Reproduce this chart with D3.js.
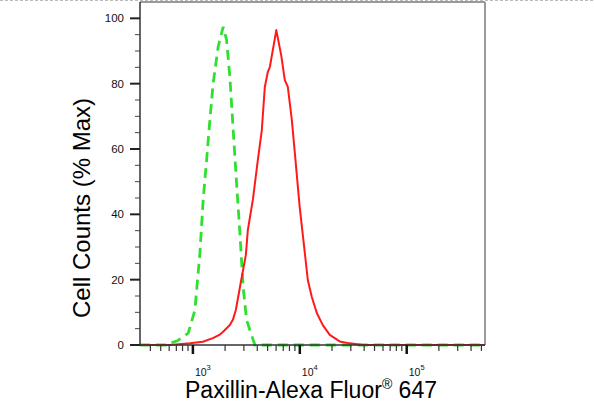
<!DOCTYPE html>
<html>
<head>
<meta charset="utf-8">
<script src="https://cdn.jsdelivr.net/npm/d3@7"></script>
<style>
  html, body { margin: 0; padding: 0; background: #fff; }
  svg { display: block; font-family: Arial, "Liberation Sans", sans-serif; }
</style>
</head>
<body>
<svg id="chart" width="594" height="411"></svg>
<script>
// ---- data (fluorescence intensity, % of max) ----
const isotypeX = [320, 560, 610, 709, 904, 1044, 1163, 1248, 1343, 1442, 1548, 1723, 1919, 2065, 2217, 2381, 2561, 2750, 2952, 3177, 3408, 3800, 540000];
const isotypeY = [0, 0, 0.6, 1.2, 3.6, 10.7, 28.2, 44.4, 56.6, 68.9, 80.2, 91.3, 97.4, 93.4, 82.1, 65.9, 49.6, 34.3, 17.8, 7.7, 4.6, 0, 0];

const sampleX = [320, 610, 937, 1240, 1538, 1788, 1906, 2217, 2364, 2522, 2809, 3128, 3266, 3637, 4049, 4413, 4708, 5023, 5245, 6030, 6714, 7241, 7725, 8420, 8984, 9978, 11140, 11880, 12950, 14430, 16410, 19070, 23640, 29320, 38800, 540000];
const sampleY = [0, 0, 0.5, 1.0, 2.1, 3.2, 4.0, 6.1, 7.7, 10.7, 19.3, 27.5, 35.2, 44.4, 56.6, 65.8, 79.0, 83.6, 85.1, 96.4, 88.5, 81.1, 79.0, 68.9, 58.8, 42.2, 28.2, 19.9, 14.7, 9.8, 6.1, 3.1, 1.1, 0.5, 0, 0];

const xMajorTicks = [1000, 10000, 100000];
const xMajorExponents = ["3", "4", "5"];
const xMinorTicks = [400, 500, 600, 700, 800, 900,
  2000, 3000, 4000, 5000, 6000, 7000, 8000, 9000,
  20000, 30000, 40000, 50000, 60000, 70000, 80000, 90000,
  200000, 300000, 400000, 500000];
const yMajorTicks = [0, 20, 40, 60, 80, 100];
const yMinorTicks = [5, 10, 15, 25, 30, 35, 45, 50, 55, 65, 70, 75, 85, 90, 95];
const xTitle = "Paxillin-Alexa Fluor";
const xTitleSup = "®";
const xTitleEnd = " 647";
const yTitle = "Cell Counts (% Max)";

// ---- layout ----
const svg = d3.select("#chart");
const pLeft = 140, pRight = 485, pTop = 2, pBottom = 345;
const x = d3.scaleLog().domain([320, 540000]).range([pLeft, pRight]);
const y = d3.scaleLinear().domain([0, 105]).range([pBottom, pTop]);

// faint dashed border at very top
svg.append("line").attr("x1", 0).attr("x2", 594).attr("y1", 0.5).attr("y2", 0.5)
  .attr("stroke", "#bbb").attr("stroke-width", 1).attr("stroke-dasharray", "3,2");

// frame (top & right gray)
svg.append("line").attr("x1", pLeft).attr("x2", pRight).attr("y1", pTop).attr("y2", pTop)
  .attr("stroke", "#9a9a9a").attr("stroke-width", 2);
svg.append("line").attr("x1", pRight).attr("x2", pRight).attr("y1", pTop).attr("y2", pBottom)
  .attr("stroke", "#9a9a9a").attr("stroke-width", 2);

// curves
const line = d3.line().x(d => x(d[0])).y(d => y(d[1]));
const iso = isotypeX.map((v, i) => [v, isotypeY[i]]);
const smp = sampleX.map((v, i) => [v, sampleY[i]]);

svg.append("path").datum(iso).attr("d", line)
  .attr("fill", "none").attr("stroke", "#2fe02f").attr("stroke-width", 2.8)
  .attr("stroke-dasharray", "10,6");
svg.append("path").datum(smp).attr("d", line)
  .attr("fill", "none").attr("stroke", "#ff1a1a").attr("stroke-width", 2)
  .attr("stroke-linejoin", "round");

// axes lines
svg.append("line").attr("x1", pLeft).attr("x2", pLeft).attr("y1", pTop).attr("y2", pBottom + 1)
  .attr("stroke", "#333").attr("stroke-width", 1.5);
svg.append("line").attr("x1", pLeft).attr("x2", pRight).attr("y1", pBottom).attr("y2", pBottom)
  .attr("stroke", "#333").attr("stroke-width", 1.5);

// y ticks
svg.selectAll(".ymaj").data(yMajorTicks).enter().append("line")
  .attr("x1", pLeft - 10).attr("x2", pLeft).attr("y1", d => y(d)).attr("y2", d => y(d))
  .attr("stroke", "#222").attr("stroke-width", 2);
svg.selectAll(".ymin").data(yMinorTicks).enter().append("line")
  .attr("x1", pLeft - 5).attr("x2", pLeft).attr("y1", d => y(d)).attr("y2", d => y(d))
  .attr("stroke", "#444").attr("stroke-width", 1);
svg.selectAll(".ylab").data(yMajorTicks).enter().append("text")
  .attr("x", pLeft - 16).attr("y", d => y(d) + 4)
  .attr("text-anchor", "end").attr("font-size", 11.5).attr("fill", "#111")
  .text(d => d);

// x ticks
svg.selectAll(".xmaj").data(xMajorTicks).enter().append("line")
  .attr("x1", d => x(d)).attr("x2", d => x(d)).attr("y1", pBottom).attr("y2", pBottom + 9)
  .attr("stroke", "#111").attr("stroke-width", 2.5);
svg.selectAll(".xmin").data(xMinorTicks).enter().append("line")
  .attr("x1", d => x(d)).attr("x2", d => x(d)).attr("y1", pBottom).attr("y2", pBottom + 6)
  .attr("stroke", "#333").attr("stroke-width", 1.2);
const xl = svg.selectAll(".xlab").data(xMajorTicks).enter().append("text")
  .attr("x", d => x(d) + 2).attr("y", 376)
  .attr("font-size", 10.5).attr("fill", "#111");
xl.append("tspan").text("10");
xl.append("tspan").attr("dy", -6).attr("font-size", 7.5).text((d, i) => xMajorExponents[i]);

// titles
const xt = svg.append("text").attr("x", 311).attr("y", 398)
  .attr("text-anchor", "middle").attr("font-size", 23).attr("fill", "#000");
xt.append("tspan").text(xTitle);
xt.append("tspan").attr("dy", -9).attr("font-size", 14).text(xTitleSup);
xt.append("tspan").attr("dy", 9).text(xTitleEnd);

svg.append("text").attr("transform", "translate(90,208) rotate(-90)")
  .attr("text-anchor", "middle").attr("font-size", 24).attr("fill", "#000")
  .text(yTitle);
</script>
</body>
</html>
